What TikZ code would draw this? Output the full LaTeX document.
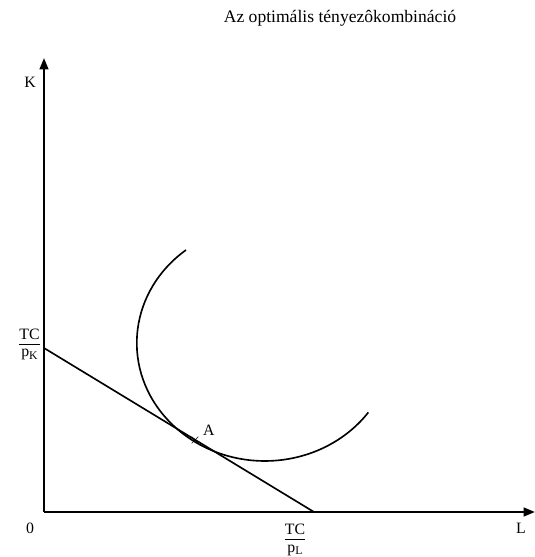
\documentclass[tikz,border=0pt]{standalone}
\usepackage{fontspec}
\setmainfont{Liberation Serif}
\usetikzlibrary{arrows.meta, positioning, shapes.misc}

% TC over p_X, set tight
\newcommand{\tcover}[1]{%
  \renewcommand{\arraystretch}{0.85}%
  \begin{tabular}{@{}c@{}}TC\\\hline\noalign{\vskip1pt}p\textsubscript{#1}\end{tabular}}
\renewcommand{\textsubscript}[1]{\raisebox{-0.3ex}{\fontsize{10}{10}\selectfont #1}}

\begin{document}
\begin{tikzpicture}[
    x=0.03cm, y=0.03cm,
    axis/.style={-{Triangle[length=3.4mm, width=2.6mm]}, line width=1.8pt},
    curve/.style={line width=1.4pt},
    lbl/.style={font=\fontsize{13.5}{16}\selectfont, inner sep=1pt},
    optmark/.style={cross out, draw, minimum size=5pt, inner sep=0pt, line width=0.6pt}
]
    \useasboundingbox (-44,-45) rectangle (491,512);

    % axes
    \coordinate (O) at (0,0);
    \coordinate (ytop) at (0,454);
    \coordinate (xend) at (491,0);
    \draw[axis] (O) -- (ytop);
    \draw[axis] (O) -- (xend);

    \node[font=\fontsize{15}{18}\selectfont] (title) at (296,494) {Az optimális tényezôkombináció};
    \node[lbl] (K) at (-14,430) {K};
    \node[lbl] (L) at (477,-16) {L};
    \node[lbl] (zero) at (-14,-16) {0};

    % budget line
    \coordinate (bK) at (0,164);
    \coordinate (bL) at (270,0);
    \draw[curve] (bK) -- (bL);
    \node[lbl, anchor=east] (tcpk) at (-3,167) {\tcover{K}};
    \node[lbl, anchor=north] (tcpl) at (251,-10) {\tcover{L}};

    % isoquant
    \coordinate (q0) at (142,262);
    \draw[curve] (q0) arc[start angle=128, end angle=324, x radius=128, y radius=118];

    % optimum
    \node[optmark] (A) at (151,72) {};
    \node[lbl, above right=0pt and 3pt of A] (Alabel) {A};
\end{tikzpicture}
\end{document}
